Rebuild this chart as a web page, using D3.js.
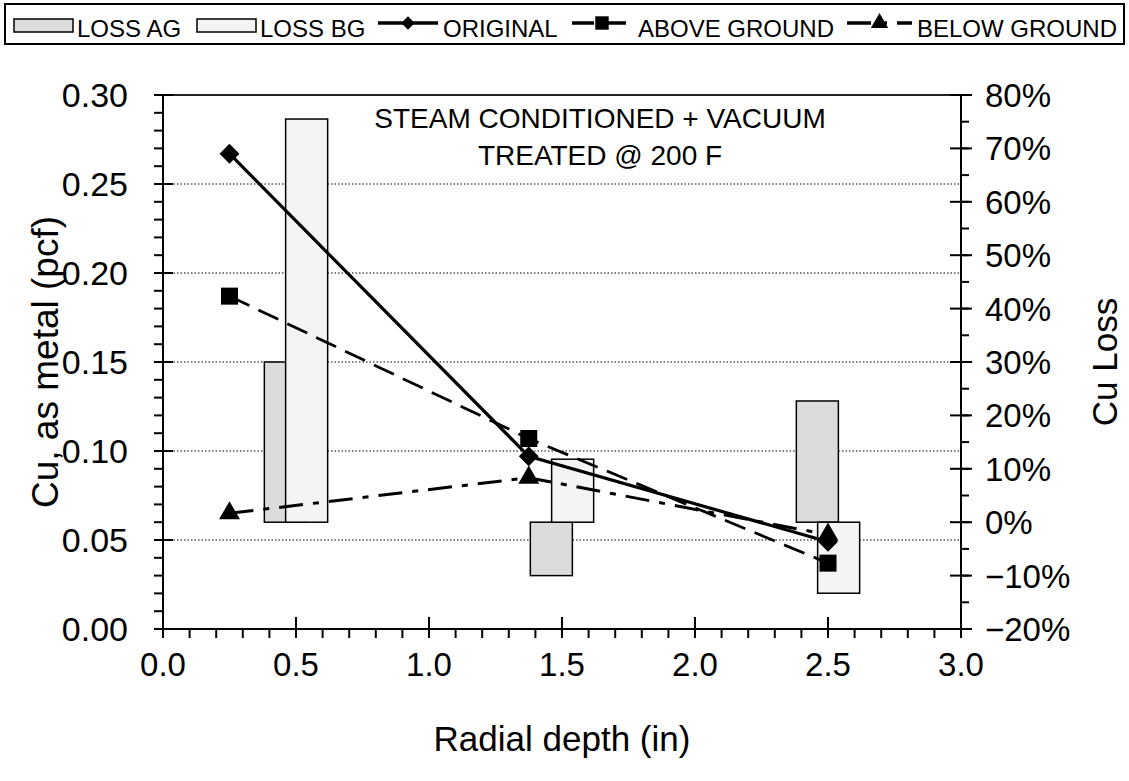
<!DOCTYPE html>
<html>
<head>
<meta charset="utf-8">
<script src="https://cdn.jsdelivr.net/npm/d3@7"></script>
<style>
  html, body { margin: 0; padding: 0; background: #fff; }
  svg { display: block; font-family: "Liberation Sans", Arial, sans-serif; }
</style>
</head>
<body>
<svg id="chart" width="1129" height="781"></svg>
<script>
// ---- data ----
const lineX = [0.25, 1.375, 2.5];
const original = [0.267, 0.097, 0.049];
const aboveGround = [0.187, 0.107, 0.037];
const belowGround = [0.065, 0.085, 0.053];

const barCategories = [0.5, 1.5, 2.5];
const lossAG = [0.30, -0.10, 0.227];
const lossBG = [0.755, 0.118, -0.133];

const xTicks = [0.0, 0.5, 1.0, 1.5, 2.0, 2.5, 3.0];
const yTicks = [0.00, 0.05, 0.10, 0.15, 0.20, 0.25, 0.30];
const y2Ticks = [-0.2, -0.1, 0, 0.1, 0.2, 0.3, 0.4, 0.5, 0.6, 0.7, 0.8];
const gridValues = [0.05, 0.10, 0.15, 0.20, 0.25];

const annotationLines = ["STEAM CONDITIONED + VACUUM", "TREATED @ 200 F"];
const legendLabels = ["LOSS AG", "LOSS BG", "ORIGINAL", "ABOVE GROUND", "BELOW GROUND"];

// ---- layout ----
const svg = d3.select("#chart");
const L = 163, R = 961, T = 95, B = 629;
const x = d3.scaleLinear().domain([0, 3]).range([L, R]);
const y = d3.scaleLinear().domain([0, 0.30]).range([B, T]);
const y2 = d3.scaleLinear().domain([-0.2, 0.8]).range([B, T]);

const AG_FILL = "#dcdcdc", BG_FILL = "#f4f4f4";
const tickFont = 33;

// gridlines
svg.append("g").selectAll("line").data(gridValues).join("line")
  .attr("x1", L).attr("x2", R)
  .attr("y1", d => y(d)).attr("y2", d => y(d))
  .attr("stroke", "#000").attr("stroke-width", 1.2)
  .attr("stroke-dasharray", "1.5,2");
// top border
svg.append("line").attr("x1", L).attr("x2", R).attr("y1", T).attr("y2", T)
  .attr("stroke", "#222").attr("stroke-width", 2);

// bars (right axis)
const barW = 0.158; // in x units
const off = 0.04;
const bars = svg.append("g");
function drawBars(vals, fill, dx) {
  bars.selectAll(null).data(vals).join("rect")
    .attr("x", (d, i) => x(barCategories[i] + dx - barW / 2))
    .attr("width", x(barW) - x(0))
    .attr("y", d => y2(Math.max(0, d)))
    .attr("height", d => Math.abs(y2(d) - y2(0)))
    .attr("fill", fill).attr("stroke", "#000").attr("stroke-width", 1.5);
}
drawBars(lossAG, AG_FILL, -off);
drawBars(lossBG, BG_FILL, off);

// axes
const minorX = d3.range(0, 3.0001, 0.1);
const minorY = d3.range(0, 0.30001, 0.01);
const minorY2 = d3.range(-0.2, 0.80001, 0.05);

function axisGroup() { return svg.append("g").attr("stroke", "#000").attr("stroke-width", 2); }

// x axis
const gx = axisGroup();
gx.append("line").attr("x1", L).attr("x2", R).attr("y1", B).attr("y2", B);
gx.selectAll(".mn").data(minorX).join("line").attr("class", "mn")
  .attr("x1", d => x(d)).attr("x2", d => x(d)).attr("y1", B).attr("y2", B + 9);
gx.selectAll(".mj").data(xTicks).join("line").attr("class", "mj")
  .attr("x1", d => x(d)).attr("x2", d => x(d)).attr("y1", B - 12).attr("y2", B + 9);
svg.append("g").selectAll("text").data(xTicks).join("text")
  .attr("x", d => x(d)).attr("y", 676).attr("text-anchor", "middle")
  .attr("font-size", tickFont).text(d => d3.format(".1f")(d));

// left axis
const gy = axisGroup();
gy.append("line").attr("x1", L).attr("x2", L).attr("y1", T).attr("y2", B);
gy.selectAll(".mn").data(minorY).join("line").attr("class", "mn")
  .attr("x1", L - 9).attr("x2", L).attr("y1", d => y(d)).attr("y2", d => y(d));
gy.selectAll(".mj").data(yTicks).join("line").attr("class", "mj")
  .attr("x1", L - 9).attr("x2", L + 10).attr("y1", d => y(d)).attr("y2", d => y(d));
svg.append("g").selectAll("text").data(yTicks).join("text")
  .attr("x", 128).attr("y", d => y(d) + 12).attr("text-anchor", "end")
  .attr("font-size", 34).text(d => d3.format(".2f")(d));

// right axis
const gy2 = axisGroup();
gy2.append("line").attr("x1", R).attr("x2", R).attr("y1", T).attr("y2", B);
gy2.selectAll(".mn").data(minorY2).join("line").attr("class", "mn")
  .attr("x1", R).attr("x2", R + 8).attr("y1", d => y2(d)).attr("y2", d => y2(d));
gy2.selectAll(".mj").data(y2Ticks).join("line").attr("class", "mj")
  .attr("x1", R - 11).attr("x2", R + 11).attr("y1", d => y2(d)).attr("y2", d => y2(d));
svg.append("g").selectAll("text").data(y2Ticks).join("text")
  .attr("x", 985).attr("y", d => y2(d) + 12).attr("text-anchor", "start")
  .attr("font-size", tickFont).text(d => d3.format(".0%")(d));

// axis titles
svg.append("text").attr("transform", `translate(58,${(T + B) / 2}) rotate(-90)`)
  .attr("text-anchor", "middle").attr("font-size", 37).text("Cu, as metal (pcf)");
svg.append("text").attr("transform", `translate(1117,${(T + B) / 2}) rotate(-90)`)
  .attr("text-anchor", "middle").attr("font-size", 35).text("Cu Loss");
svg.append("text").attr("x", (L + R) / 2).attr("y", 751)
  .attr("text-anchor", "middle").attr("font-size", 35).text("Radial depth (in)");

// annotation
svg.append("g").selectAll("text").data(annotationLines).join("text")
  .attr("x", 600).attr("y", (d, i) => 128 + i * 37).attr("text-anchor", "middle")
  .attr("font-size", 28).text(d => d);

// lines
const pts = vals => vals.map((v, i) => [x(lineX[i]), y(v)]);
const lineGen = d3.line();
const series = [
  { vals: belowGround, dash: "24,10,6,10", sym: d3.symbolTriangle, size: 190, w: 3, rot: 0 },
  { vals: aboveGround, dash: "22,10", sym: d3.symbolSquare, size: 290, w: 2.8, rot: 0 },
  { vals: original, dash: null, sym: d3.symbolSquare, size: 196, w: 3.2, rot: 45 }
];
series.forEach(s => {
  svg.append("path").attr("d", lineGen(pts(s.vals))).attr("fill", "none")
    .attr("stroke", "#000").attr("stroke-width", s.w)
    .attr("stroke-dasharray", s.dash);
});
series.forEach(s => {
  svg.append("g").selectAll("path").data(pts(s.vals)).join("path")
    .attr("transform", d => `translate(${d[0]},${d[1]}) rotate(${s.rot})`)
    .attr("d", d3.symbol(s.sym, s.size)).attr("fill", "#000");
});

// legend
const lg = svg.append("g");
lg.append("rect").attr("x", 5).attr("y", 4).attr("width", 1119).attr("height", 40)
  .attr("fill", "#fff").attr("stroke", "#000").attr("stroke-width", 2);
const lf = 24, ly = 37;
// bar swatches
[[14, AG_FILL, 0], [197, BG_FILL, 1]].forEach(([sx, f, i]) => {
  lg.append("rect").attr("x", sx).attr("y", 19).attr("width", 59).attr("height", 13)
    .attr("fill", f).attr("stroke", "#000").attr("stroke-width", 1.5);
  lg.append("text").attr("x", sx + 63).attr("y", ly).attr("font-size", lf).text(legendLabels[i]);
});
const legendLines = [
  { x0: 378, x1: 438, tx: 443, s: series[2], i: 2, size: 90 },
  { x0: 572, x1: 632, tx: 638, s: series[1], i: 3, size: 180 },
  { x0: 847, x1: 912, tx: 917, s: series[0], i: 4, size: 130 }
];
legendLines.forEach(o => {
  lg.append("line").attr("x1", o.x0).attr("x2", o.x1).attr("y1", 23).attr("y2", 23)
    .attr("stroke", "#000").attr("stroke-width", 3.5).attr("stroke-dasharray", o.s.dash);
  lg.append("path").attr("transform", `translate(${(o.x0 + o.x1) / 2},23) rotate(${o.s.rot})`)
    .attr("d", d3.symbol(o.s.sym, o.size)).attr("fill", "#000");
  lg.append("text").attr("x", o.tx).attr("y", ly).attr("font-size", lf).text(legendLabels[o.i]);
});
</script>
</body>
</html>
